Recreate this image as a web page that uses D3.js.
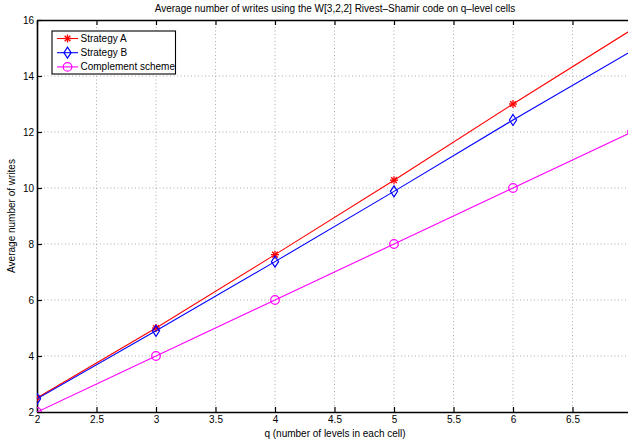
<!DOCTYPE html>
<html><head><meta charset="utf-8">
<script src="https://cdn.jsdelivr.net/npm/d3@7"></script>
<style>body{margin:0;background:#fff}svg{display:block}text{font-family:"Liberation Sans",Arial,sans-serif}</style>
</head><body>
<svg id="c" width="628" height="441"></svg>
<script>
const qValues = [2, 3, 4, 5, 6, 7];
const strategyA = [2.5, 5.0, 7.62, 10.28, 13.0, 15.66];
const strategyB = [2.47, 4.9, 7.37, 9.88, 12.43, 14.9];
const complement = [2, 4, 6, 8, 10, 12];
const xTicks = [2, 2.5, 3, 3.5, 4, 4.5, 5, 5.5, 6, 6.5];
const yTicks = [2, 4, 6, 8, 10, 12, 14, 16];
const seriesNames = ["Strategy A", "Strategy B", "Complement scheme"];

const svg = d3.select("#c");
const W = 628, H = 441;
const L = 37, T = 20, B = 412;
const x = d3.scaleLinear().domain([2, 7]).range([L, 632]);
const y = d3.scaleLinear().domain([2, 16]).range([B, T]);

svg.append("defs").append("clipPath").attr("id","clip")
  .append("rect").attr("x", L).attr("y", T).attr("width", 632-L).attr("height", B-T);

// grid
const grid = svg.append("g").attr("stroke","#999").attr("stroke-width",0.8).attr("stroke-dasharray","1,2.5");
grid.selectAll("line.v").data(xTicks.slice(1)).join("line")
  .attr("x1", d=>x(d)).attr("x2", d=>x(d)).attr("y1", T).attr("y2", B);
grid.selectAll("line.h").data(yTicks.slice(1,-1)).join("line")
  .attr("y1", d=>y(d)).attr("y2", d=>y(d)).attr("x1", L).attr("x2", W);

// axes
const fmt = d3.format("~g");
const xAxis = svg.append("g").attr("transform",`translate(0,${B})`)
  .call(d3.axisBottom(x).tickValues(xTicks).tickSizeInner(-5).tickSizeOuter(0).tickPadding(4).tickFormat(fmt));
const xTop = svg.append("g").attr("transform",`translate(0,${T})`)
  .call(d3.axisTop(x).tickValues(xTicks).tickSizeInner(-5).tickSizeOuter(0).tickFormat(""));
const yAxis = svg.append("g").attr("transform",`translate(${L},0)`)
  .call(d3.axisLeft(y).tickValues(yTicks).tickSizeInner(-5).tickSizeOuter(0).tickPadding(3).tickFormat(fmt));
[xAxis, xTop, yAxis].forEach(g => {
  g.select(".domain").attr("stroke","#000").attr("stroke-width",1.6);
  g.selectAll(".tick line").attr("stroke","#000").attr("stroke-width",1.2);
  g.selectAll("text").attr("font-size",10).attr("fill","#000")
   .attr("font-family",'"Liberation Sans",Arial,sans-serif');
});

// series
const colors = ["#ff0000", "#0000ff", "#ff00ff"];
const all = [strategyA, strategyB, complement];
const plot = svg.append("g").attr("clip-path","url(#clip)");
const line = d3.line().x((d,i)=>x(qValues[i])).y(d=>y(d));

function marker(g, k, cx, cy) {
  const c = colors[k];
  if (k === 0) {
    const r = 4;
    for (const a of [0, 45, 90, 135]) {
      const rad = a*Math.PI/180;
      g.append("line").attr("x1", cx - r*Math.cos(rad)).attr("y1", cy - r*Math.sin(rad))
        .attr("x2", cx + r*Math.cos(rad)).attr("y2", cy + r*Math.sin(rad))
        .attr("stroke", c).attr("stroke-width", 1.3);
    }
  } else if (k === 1) {
    g.append("path").attr("d", `M${cx},${cy-5.5}L${cx+3.6},${cy}L${cx},${cy+5.5}L${cx-3.6},${cy}Z`)
      .attr("fill","none").attr("stroke", c).attr("stroke-width", 1.2);
  } else {
    g.append("circle").attr("cx", cx).attr("cy", cy).attr("r", 4.3)
      .attr("fill","none").attr("stroke", c).attr("stroke-width", 1.2);
  }
}

const order = [2, 0, 1];
order.forEach(k => {
  plot.append("path").datum(all[k]).attr("d", line)
    .attr("fill","none").attr("stroke", colors[k]).attr("stroke-width", 1.1);
  const mg = plot.append("g");
  all[k].forEach((v,i) => marker(mg, k, x(qValues[i]), y(v)));
});

// legend
const lg = svg.append("g");
lg.append("rect").attr("x", 52).attr("y", 31).attr("width", 123.5).attr("height", 43)
  .attr("fill","#fff").attr("stroke","#000").attr("stroke-width",1.1);
seriesNames.forEach((n,k) => {
  const yy = 38.5 + k*14.2;
  lg.append("line").attr("x1",57).attr("x2",78).attr("y1",yy).attr("y2",yy)
    .attr("stroke",colors[k]).attr("stroke-width",1.1);
  marker(lg, k, 67.5, yy);
  lg.append("text").attr("x", 80.5).attr("y", yy).attr("dy","0.35em")
    .attr("font-size",10).text(n);
});

// titles
svg.append("text").attr("x", 335).attr("y", 12).attr("text-anchor","middle")
  .attr("font-size",10).text("Average number of writes using the W[3,2,2] Rivest\u2013Shamir code on q\u2013level cells");
svg.append("text").attr("x", 335).attr("y", 437).attr("text-anchor","middle")
  .attr("font-size",10).text("q (number of levels in each cell)");
svg.append("text").attr("transform", `translate(15,${(T+B)/2}) rotate(-90)`).attr("text-anchor","middle")
  .attr("font-size",10).text("Average number of writes");
</script>
</body></html>
